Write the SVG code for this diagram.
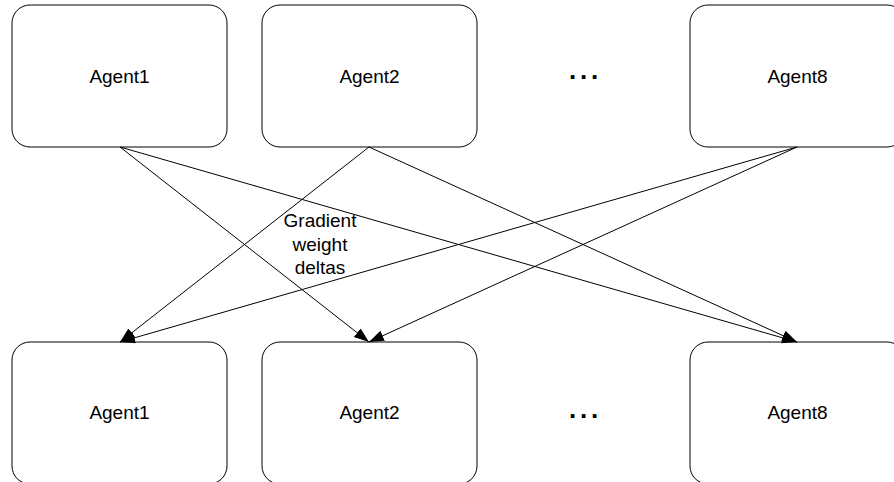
<svg xmlns="http://www.w3.org/2000/svg" width="894" height="482" viewBox="0 0 894 482">
<style>
.box{fill:#fff;stroke:#000;stroke-width:1}
.lbl{font-family:"Liberation Sans",Arial,sans-serif;font-size:19px;fill:#000;text-anchor:middle}
.dots{font-family:"Liberation Sans",Arial,sans-serif;font-size:26px;font-weight:bold;fill:#000;letter-spacing:3.8px}
.edge{stroke:#000;stroke-width:1;fill:none;marker-end:url(#arr)}
</style>
<defs>
<marker id="arr" markerUnits="userSpaceOnUse" markerWidth="16" markerHeight="12" refX="15" refY="5.5" orient="auto">
<path d="M0,0 L15,5.5 L0,11 Z" fill="#000"/>
</marker>
</defs>
<rect width="894" height="482" fill="#fff"/>
<g id="top-agent1"><rect class="box" x="12" y="5" width="215" height="142" rx="18"/><text class="lbl" x="119.5" y="83">Agent1</text></g>
<g id="top-agent2"><rect class="box" x="262" y="5" width="215" height="142" rx="18"/><text class="lbl" x="369.5" y="83">Agent2</text></g>
<g id="top-dots"><text class="dots" x="569" y="79">...</text></g>
<g id="top-agent8"><rect class="box" x="690" y="5" width="215" height="142" rx="18"/><text class="lbl" x="797.5" y="83">Agent8</text></g>
<g id="bot-agent1"><rect class="box" x="12" y="342" width="215" height="142" rx="18"/><text class="lbl" x="119.5" y="419">Agent1</text></g>
<g id="bot-agent2"><rect class="box" x="262" y="342" width="215" height="142" rx="18"/><text class="lbl" x="369.5" y="419">Agent2</text></g>
<g id="bot-dots"><text class="dots" x="569" y="418">...</text></g>
<g id="bot-agent8"><rect class="box" x="690" y="342" width="215" height="142" rx="18"/><text class="lbl" x="797.5" y="419">Agent8</text></g>
<g id="connectors">
<line class="edge" x1="120" y1="147" x2="369" y2="342"/>
<line class="edge" x1="120" y1="147" x2="797" y2="342"/>
<line class="edge" x1="369" y1="147" x2="120" y2="342"/>
<line class="edge" x1="369" y1="147" x2="797" y2="342"/>
<line class="edge" x1="797" y1="147" x2="120" y2="342"/>
<line class="edge" x1="797" y1="147" x2="369" y2="342"/>
<text class="lbl" x="320" y="227">Gradient</text>
<text class="lbl" x="320" y="250.5">weight</text>
<text class="lbl" x="320" y="274">deltas</text>
</g>
</svg>
